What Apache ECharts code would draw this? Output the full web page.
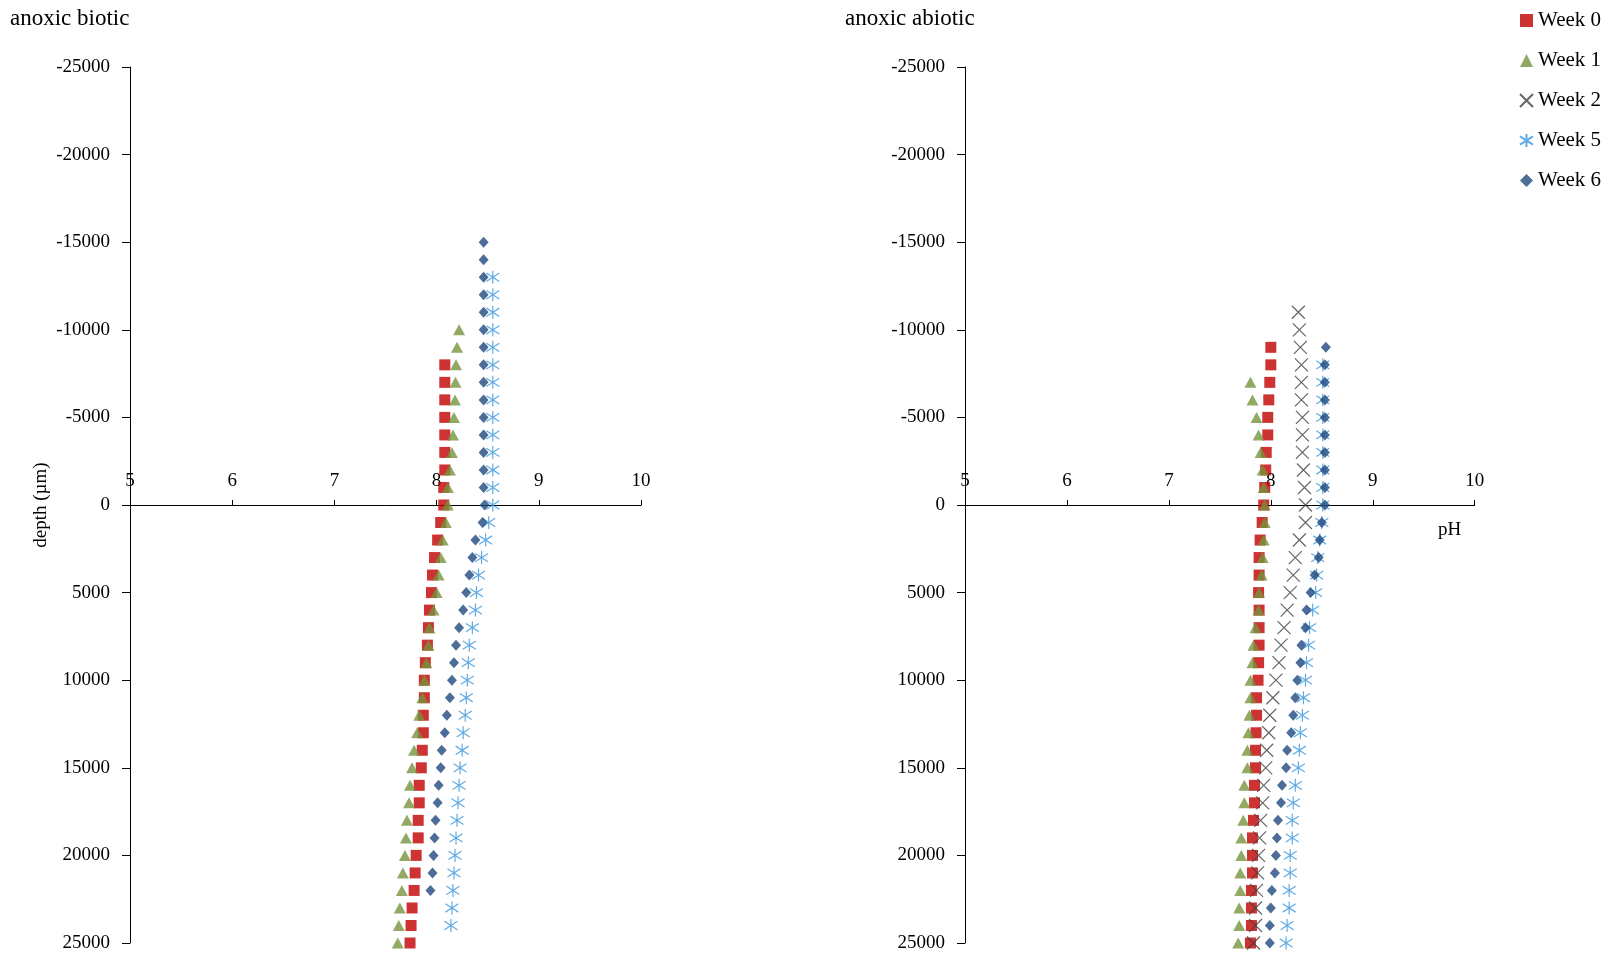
<!DOCTYPE html>
<html>
<head>
<meta charset="utf-8">
<script src="https://cdn.jsdelivr.net/npm/echarts@6/dist/echarts.min.js"></script>
<style>
html,body{margin:0;padding:0;background:#fff;}
#chart{width:1608px;height:954px;}
</style>
</head>
<body>
<div id="chart"></div>
<script>
// depth (µm), shared by every series; null = no measurement at that depth
var depths = [-15000,-14000,-13000,-12000,-11000,-10000,-9000,-8000,-7000,-6000,-5000,-4000,-3000,-2000,-1000,0,
  1000,2000,3000,4000,5000,6000,7000,8000,9000,10000,11000,12000,13000,14000,15000,16000,17000,18000,19000,20000,21000,22000,23000,24000,25000];

var seriesNames = ['Week 0','Week 1','Week 2','Week 5','Week 6'];
var xTicks = [5,6,7,8,9,10];
var yTicks = [-25000,-20000,-15000,-10000,-5000,0,5000,10000,15000,20000,25000];

// anoxic biotic (pH)
var bioticW0 = [null,null,null,null,null,null,null,
  8.08,8.08,8.08,8.08,8.08,8.08,8.08,8.07,8.07,
  8.04,8.01,7.98,7.96,7.95,7.93,7.92,7.91,7.89,7.88,7.88,7.87,7.87,7.86,7.85,7.83,7.83,7.82,7.82,7.80,7.79,7.78,7.76,7.75,7.74];
var bioticW1 = [null,null,null,null,null,
  8.22,8.20,8.19,8.185,8.18,8.17,8.16,8.15,8.13,8.11,8.11,
  8.09,8.06,8.04,8.02,8.00,7.97,7.93,7.92,7.90,7.88,7.86,7.83,7.81,7.78,7.76,7.74,7.73,7.71,7.70,7.69,7.67,7.66,7.64,7.63,7.62];
var bioticW2 = [null,null,null,null,null,null,null,null,null,null,null,null,null,null,null,null,
  null,null,null,null,null,null,null,null,null,null,null,null,null,null,null,null,null,null,null,null,null,null,null,null,null];
var bioticW5 = [null,null,
  8.55,8.55,8.55,8.55,8.55,8.55,8.55,8.55,8.55,8.55,8.55,8.55,8.55,8.55,
  8.51,8.48,8.44,8.41,8.39,8.38,8.35,8.32,8.31,8.30,8.29,8.28,8.26,8.25,8.23,8.22,8.21,8.20,8.19,8.18,8.17,8.16,8.15,8.14,null];
var bioticW6 = [8.46,8.46,8.46,8.46,8.46,8.46,8.46,8.46,8.46,8.46,8.46,8.46,8.46,8.46,8.46,8.47,
  8.45,8.38,8.35,8.32,8.29,8.26,8.22,8.19,8.17,8.15,8.13,8.10,8.08,8.05,8.04,8.02,8.01,7.99,7.98,7.97,7.96,7.94,null,null,null];

// anoxic abiotic (pH)
var abioticW0 = [null,null,null,null,null,null,
  8.00,8.00,7.99,7.98,7.97,7.97,7.955,7.95,7.94,7.93,
  7.915,7.895,7.885,7.885,7.88,7.885,7.885,7.885,7.88,7.875,7.86,7.86,7.855,7.85,7.85,7.84,7.84,7.83,7.82,7.82,7.82,7.81,7.81,7.81,7.80];
var abioticW1 = [null,null,null,null,null,null,null,null,
  7.80,7.82,7.86,7.88,7.90,7.92,7.93,7.94,
  7.94,7.93,7.92,7.91,7.885,7.88,7.85,7.83,7.82,7.80,7.80,7.79,7.78,7.77,7.77,7.74,7.74,7.73,7.71,7.71,7.70,7.70,7.69,7.69,7.68];
var abioticW2 = [null,null,null,null,
  8.27,8.28,8.29,8.30,8.30,8.30,8.31,8.31,8.31,8.32,8.33,8.34,
  8.34,8.28,8.24,8.22,8.19,8.16,8.13,8.10,8.08,8.05,8.02,7.99,7.98,7.96,7.95,7.93,7.92,7.90,7.89,7.88,7.87,7.86,7.85,7.85,7.83];
var abioticW5 = [null,null,null,null,null,null,null,
  8.51,8.51,8.51,8.51,8.51,8.51,8.51,8.51,8.51,
  8.50,8.48,8.46,8.45,8.44,8.41,8.38,8.37,8.35,8.34,8.32,8.31,8.29,8.28,8.27,8.24,8.22,8.21,8.21,8.19,8.19,8.18,8.18,8.16,8.15];
var abioticW6 = [null,null,null,null,null,null,
  8.54,8.53,8.53,8.53,8.53,8.53,8.53,8.53,8.53,8.53,
  8.50,8.48,8.47,8.43,8.39,8.35,8.34,8.30,8.29,8.26,8.24,8.22,8.20,8.16,8.15,8.11,8.10,8.07,8.06,8.05,8.04,8.01,8.00,7.99,7.99];

var FONT = '"Liberation Serif","Times New Roman",serif';

var styles = [
  {symbol:'rect', symbolSize:11, itemStyle:{color:'#C00000'}},
  {symbol:'triangle', symbolSize:[12,11], itemStyle:{color:'#77933C'}},
  {symbol:'path://M0,0L10,10M10,0L0,10', symbolSize:13, itemStyle:{color:'rgba(0,0,0,0)', borderColor:'#404040', borderWidth:1.2}},
  {symbol:'path://M5,0L5,10M0,1.8L10,8.2M10,1.8L0,8.2', symbolSize:13, itemStyle:{color:'rgba(0,0,0,0)', borderColor:'#3A96DD', borderWidth:1.2}},
  {symbol:'diamond', symbolSize:[10,11], itemStyle:{color:'#1F497D'}}
];

function pairs(vals){
  var out = [];
  for (var i = 0; i < depths.length; i++) {
    if (vals[i] !== null && vals[i] !== undefined) out.push([vals[i], depths[i]]);
  }
  return out;
}

var groups = [
  [bioticW0, bioticW1, bioticW2, bioticW5, bioticW6],
  [abioticW0, abioticW1, abioticW2, abioticW5, abioticW6]
];

var series = [];
groups.forEach(function(g, gi){
  g.forEach(function(vals, si){
    series.push({
      name: seriesNames[si],
      type: 'scatter',
      xAxisIndex: gi,
      yAxisIndex: gi,
      data: pairs(vals),
      symbol: styles[si].symbol,
      symbolSize: styles[si].symbolSize,
      itemStyle: styles[si].itemStyle,
      emphasis: {disabled: true},
      silent: true
    });
  });
});

var GRID_TOP = 67, GRID_BOTTOM_PX = 943;
// x axis drawn at depth 0 (middle of the symmetric y range)
var X_OFFSET = -(GRID_BOTTOM_PX - GRID_TOP) / 2;

function xAxis(gi){
  return {
    type: 'value', gridIndex: gi, min: xTicks[0], max: xTicks[xTicks.length-1], interval: 1,
    position: 'top', offset: X_OFFSET,
    axisLine: {onZero: false, lineStyle: {color: '#000', width: 1}},
    axisTick: {show: true, inside: false, length: 5, lineStyle: {color: '#000'}},
    axisLabel: {inside: false, margin: 14, color: '#000', fontFamily: FONT, fontSize: 19},
    splitLine: {show: false}
  };
}
function yAxis(gi){
  var a = {
    type: 'value', gridIndex: gi, min: yTicks[0], max: yTicks[yTicks.length-1], interval: 5000,
    inverse: true,
    axisLine: {show: true, onZero: false, lineStyle: {color: '#000', width: 1}},
    axisTick: {show: true, inside: false, length: 8, lineStyle: {color: '#000'}},
    axisLabel: {margin: 20, color: '#000', fontFamily: FONT, fontSize: 19, formatter: function(v){ return String(v); }},
    splitLine: {show: false}
  };
  if (gi === 0) {
    a.name = 'depth (µm)';
    a.nameLocation = 'middle';
    a.nameGap = 79;
    a.nameTextStyle = {color: '#000', fontFamily: FONT, fontSize: 19};
  }
  return a;
}

var chart = echarts.init(document.getElementById('chart'), null, {renderer: 'canvas'});
chart.setOption({
  animation: false,
  backgroundColor: '#fff',
  title: [
    {text: 'anoxic biotic', left: 10, top: 7, padding: 0, textStyle: {color: '#000', fontFamily: FONT, fontSize: 23, fontWeight: 'normal'}},
    {text: 'anoxic abiotic', left: 845, top: 7, padding: 0, textStyle: {color: '#000', fontFamily: FONT, fontSize: 23, fontWeight: 'normal'}},
    {text: 'pH', left: 1438, top: 521, padding: 0, textStyle: {color: '#000', fontFamily: FONT, fontSize: 19, fontWeight: 'normal'}}
  ],
  legend: {
    orient: 'vertical', left: 1519, top: 10, padding: 0, itemWidth: 13, itemHeight: 13, itemGap: 19,
    selectedMode: false,
    data: seriesNames,
    textStyle: {color: '#000', fontFamily: FONT, fontSize: 21}
  },
  grid: [
    {left: 130, right: 967, top: GRID_TOP, bottom: 954 - GRID_BOTTOM_PX, containLabel: false},
    {left: 965, right: 133.3, top: GRID_TOP, bottom: 954 - GRID_BOTTOM_PX, containLabel: false}
  ],
  xAxis: [xAxis(0), xAxis(1)],
  yAxis: [yAxis(0), yAxis(1)],
  series: series
});
</script>
</body>
</html>
